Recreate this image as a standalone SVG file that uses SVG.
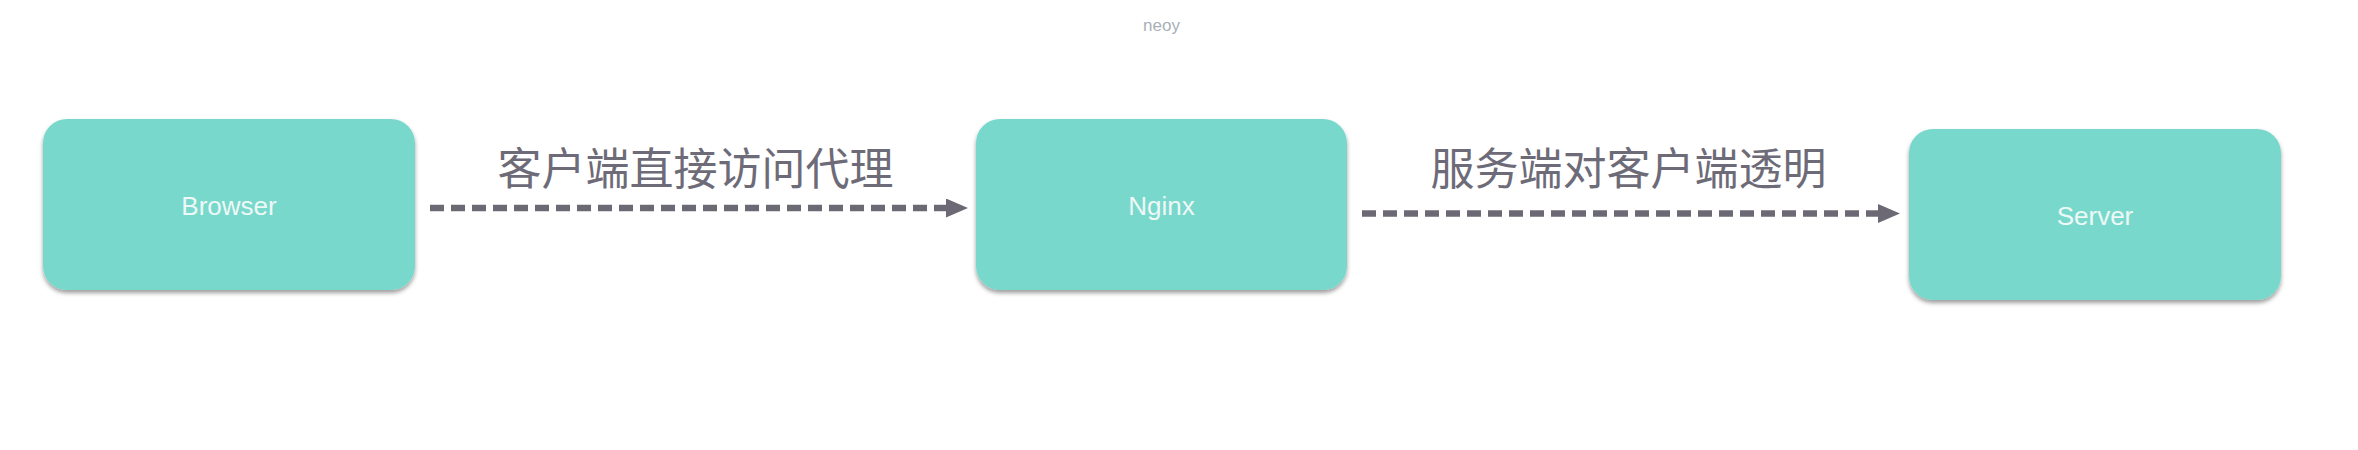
<svg xmlns="http://www.w3.org/2000/svg" width="2358" height="450" viewBox="0 0 2358 450">
  <defs>
    <filter id="shadow" x="-10%" y="-10%" width="120%" height="130%">
      <feDropShadow dx="0" dy="3" stdDeviation="2.2" flood-color="#000000" flood-opacity="0.38"/>
    </filter>
    <marker id="arrow" markerUnits="userSpaceOnUse" markerWidth="24" markerHeight="20" refX="0" refY="9.5" orient="auto">
      <path d="M0,0 L22,9.5 L0,19 Z" fill="#6c6975"/>
    </marker>
  </defs>
  <style>
    .box { fill: #79d8cc; filter: url(#shadow); }
    .label { font-family: "Liberation Sans", Arial, sans-serif; font-size: 26px; fill: #eef8f6; text-anchor: middle; }
    .edge { stroke: #6c6975; stroke-width: 6.5; stroke-dasharray: 14 7; fill: none; }
    .edge-label { font-family: "Noto Sans CJK SC", sans-serif; font-size: 44px; fill: #6e6b78; text-anchor: middle; }
    .mark { font-family: "Liberation Sans", Arial, sans-serif; font-size: 17px; fill: #a9b0b8; text-anchor: middle; }
  </style>
  <rect width="2358" height="450" fill="#ffffff"/>
  <text class="mark" x="1161.5" y="31">neoy</text>
  <g id="connectors">
    <path class="edge" d="M430,208 L946,208" marker-end="url(#arrow)"/>
    <text class="edge-label" x="695.5" y="185">客户端直接访问代理</text>
    <path class="edge" d="M1362,213.5 L1878,213.5" marker-end="url(#arrow)"/>
    <text class="edge-label" x="1628.5" y="185">服务端对客户端透明</text>
  </g>
  <g id="browser">
    <rect class="box" x="43" y="119" width="372" height="171" rx="24" ry="24"/>
    <text class="label" x="229" y="215">Browser</text>
  </g>
  <g id="nginx">
    <rect class="box" x="976" y="119" width="371" height="171" rx="24" ry="24"/>
    <text class="label" x="1161.5" y="215">Nginx</text>
  </g>
  <g id="server">
    <rect class="box" x="1909" y="129" width="372" height="171" rx="24" ry="24"/>
    <text class="label" x="2095" y="225">Server</text>
  </g>
</svg>
